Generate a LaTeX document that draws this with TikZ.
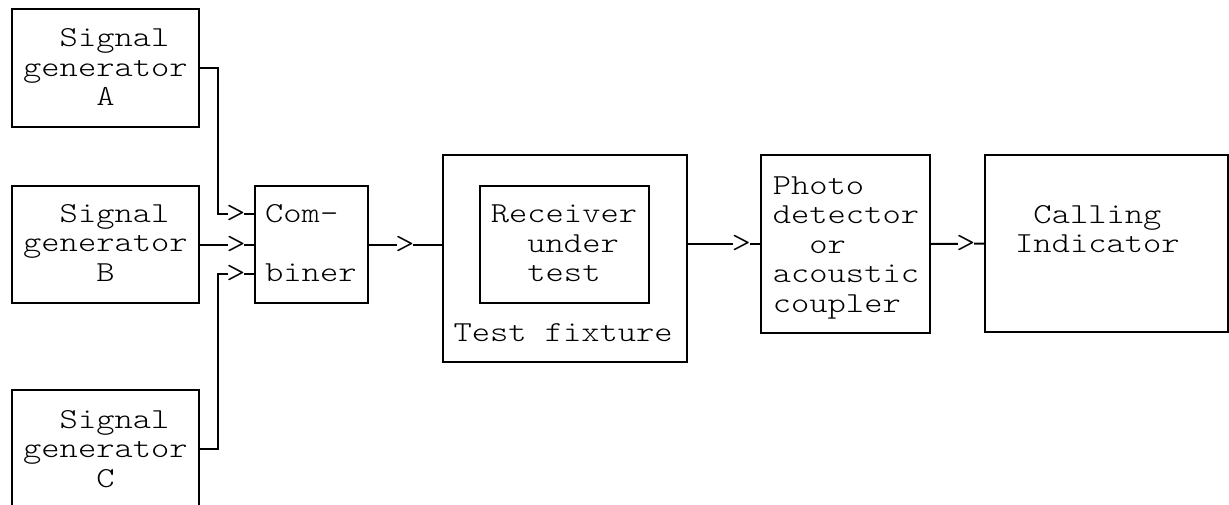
\documentclass[tikz,border=0pt]{standalone}
\usepackage{fontspec}
\newfontfamily\typefont[FakeStretch=1.2]{Latin Modern Mono Light}
\usetikzlibrary{fit}

% typewriter lines of a label, one node per line, first baseline at (x,y)
\newcommand\asciilines[4]{%
  \foreach \ln [count=\k] in {#4}{%
    \node[txt] (#1-\k) at (#2,{#3+(\k-1)*29.6}) {\ln};}}

\begin{document}
\begin{tikzpicture}[
  x=1pt, y=-1pt,
  box/.style={draw, line width=2pt, inner sep=0pt},
  wire/.style={line width=2pt},
  txt/.style={font=\typefont\fontsize{29}{29.6}\selectfont,
              inner sep=0pt, anchor=base west},
  chev/.style={font=\typefont\fontsize{31}{31}\selectfont,
               fill=white, inner xsep=-1.5pt, inner ysep=0pt,
               anchor=base, yshift=-8.5pt},
]
\clip (0,0) rectangle (1229,504);

% blocks
\node[box, fit={(12,9) (199,127)}]   (genA) {};
\node[box, fit={(12,186) (199,303)}] (genB) {};
\node[box, fit={(12,390) (199,508)}] (genC) {};
\node[box, fit={(255,186) (368,303)}] (comb) {};
\node[box, fit={(443,155) (687,362)}] (fixture) {};
\node[box, fit={(480,186) (649,303)}] (rut) {};
\node[box, fit={(761,155) (930,333)}] (photo) {};
\node[box, fit={(985,155) (1228,332)}] (call) {};

% labels
\asciilines{tA}{23}{46.5}{~~Signal,generator,~~~~A}
\asciilines{tB}{23}{222}{~~Signal,generator,~~~~B}
\asciilines{tC}{23}{428}{~~Signal,generator,~~~~C}
\node[txt] (tcomb-1) at (265,222) {Com-};
\node[txt] (tcomb-3) at (265,281.5) {biner};
\asciilines{trut}{490.7}{222.7}{Receiver,~~under,~~test}
\node[txt] (tfix) at (453.3,341.7) {Test fixture};
\asciilines{tph}{772.7}{194}{Photo,detector,~~or,acoustic,coupler}
\asciilines{tcall}{1015}{223}{~Calling,Indicator}

% connectors
\coordinate (jA) at (218,214);
\coordinate (jC) at (218,274);
\draw[wire] (genA.east) -| (jA) -- node[chev, pos=0.5] (aA) {>} (jA -| comb.west);
\draw[wire] (genB.east) -- node[chev, pos=0.67] (aB) {>} (genB.east -| comb.west);
\draw[wire] (genC.east) -| (jC) -- node[chev, pos=0.5] (aC) {>} (jC -| comb.west);
\draw[wire] (comb.east) -- node[chev, pos=0.49] (aF) {>} (comb.east -| fixture.west);
\draw[wire] (fixture.east |- photo.west) -- node[chev, pos=0.74] (aP) {>} (photo.west);
\draw[wire] (photo.east) -- node[chev, pos=0.66] (aI) {>} (call.west);
\end{tikzpicture}
\end{document}
